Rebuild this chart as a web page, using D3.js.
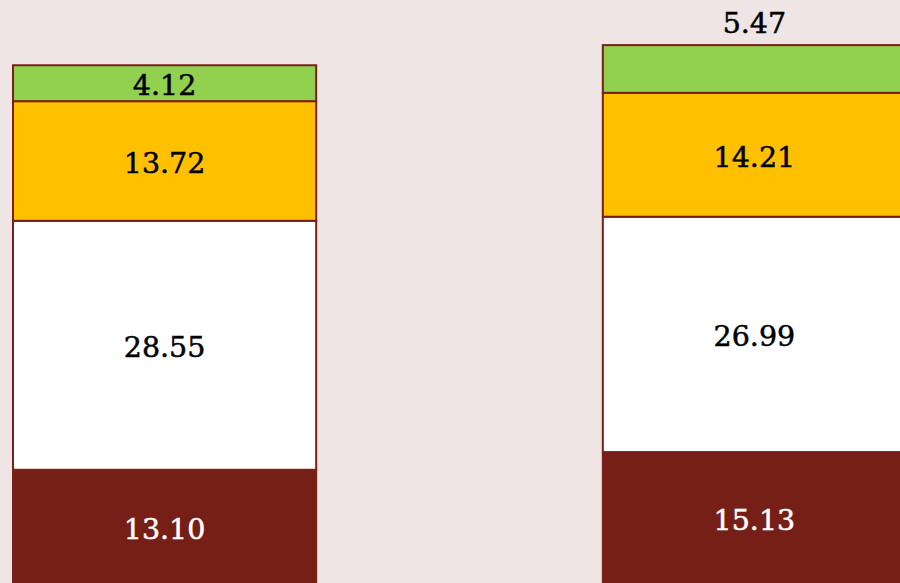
<!DOCTYPE html>
<html>
<head>
<meta charset="utf-8">
<script src="https://cdn.jsdelivr.net/npm/d3@7"></script>
<style>
  body { margin: 0; background: #efe5e5; }
  svg { display: block; }
</style>
</head>
<body>
<svg id="fig" width="900" height="583"></svg>
<script>
// data
var categories = ["Group A", "Group B"];
var seriesNames = ["Base", "Middle", "Upper", "Top"];
var base   = [13.10, 15.13];
var middle = [28.55, 26.99];
var upper  = [13.72, 14.21];
var top_   = [4.12, 5.47];
var colors = ["#761f17", "#ffffff", "#ffc000", "#92d050"];
var textColors = ["#ffffff", "#000000", "#000000", "#000000"];

var rows = categories.map(function(c, i) {
    return {cat: c, Base: base[i], Middle: middle[i], Upper: upper[i], Top: top_[i]};
});

var svg = d3.select("#fig");
var width = +svg.attr("width");
var height = +svg.attr("height");

svg.append("rect")
   .attr("width", width).attr("height", height)
   .attr("fill", "#efe5e5");

var x = d3.scaleBand().domain(categories)
          .range([13, 906])
          .paddingInner(0.486).paddingOuter(0);

var y = d3.scaleLinear().domain([0, 70]).range([584, 584 - 70 * 8.72]);

var stacked = d3.stack().keys(seriesNames)(rows);

var layers = svg.selectAll("g.layer").data(stacked)
    .enter().append("g")
    .attr("class", "layer")
    .attr("fill", function(d, i) { return colors[i]; });

layers.selectAll("rect").data(function(d) { return d; })
    .enter().append("rect")
    .attr("x", function(d) { return x(d.data.cat); })
    .attr("y", function(d) { return y(d[1]); })
    .attr("width", x.bandwidth())
    .attr("height", function(d) { return y(d[0]) - y(d[1]); })
    .attr("stroke", "#7b1f18")
    .attr("stroke-width", 2);

// labels
stacked.forEach(function(layer, li) {
    svg.selectAll("text.l" + li).data(layer)
       .enter().append("text")
       .attr("class", "l" + li)
       .attr("x", function(d) { return x(d.data.cat) + x.bandwidth() / 2; })
       .attr("y", function(d, i) {
           // the top segment of the second bar has its label sitting above the bar
           if (li == stacked.length - 1 && i == 1) return y(d[1]) - 22;
           return (y(d[0]) + y(d[1])) / 2 + 2.5;
       })
       .attr("text-anchor", "middle")
       .attr("dominant-baseline", "central")
       .attr("font-family", "DejaVu Serif, serif")
       .attr("font-size", 28.5)
       .attr("fill", textColors[li])
       .attr("stroke", textColors[li])
       .attr("stroke-width", 0.5)
       .text(function(d) { return (d[1] - d[0]).toFixed(2); });
});
</script>
</body>
</html>
